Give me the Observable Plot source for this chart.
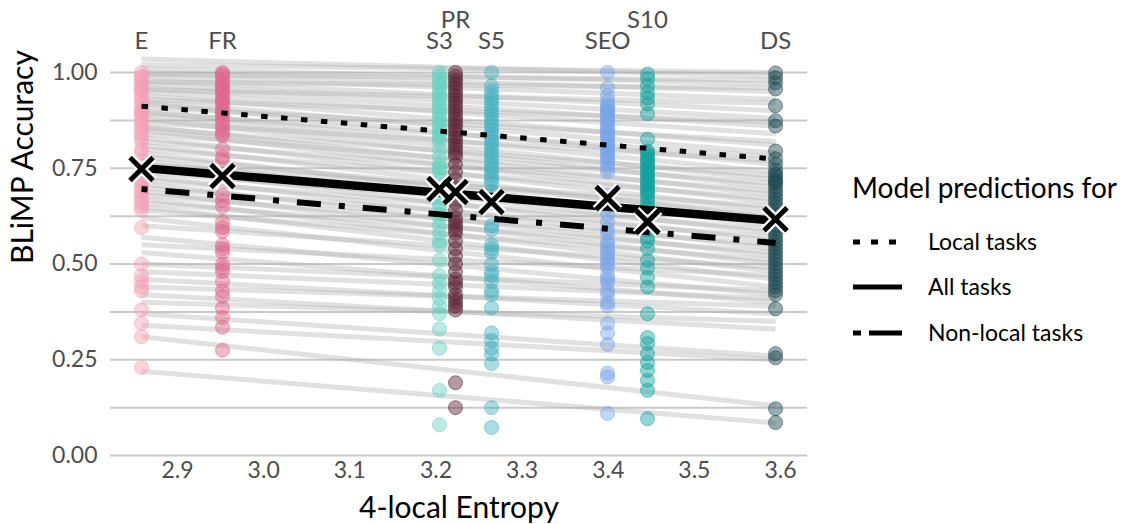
<!DOCTYPE html>
<html>
<head>
<meta charset="utf-8">
<script src="https://cdn.jsdelivr.net/npm/d3@7"></script>
<script src="https://cdn.jsdelivr.net/npm/@observablehq/plot@0.6"></script>
<style>
  html, body { margin: 0; padding: 0; background: white; }
  #wrap { position: relative; width: 1135px; height: 524px; overflow: hidden; }
  #legend { position: absolute; left: 0; top: 0; pointer-events: none; }
</style>
</head>
<body>
<div id="wrap"></div>
<script>
// ---------- data ----------
const languages = ["E", "FR", "S3", "PR", "S5", "SEO", "S10", "DS"];
const entropy   = [2.8582, 2.9522, 3.2041, 3.2227, 3.2645, 3.3992, 3.4456, 3.5942];
const labelRow  = [0, 0, 0, 1, 0, 0, 1, 0];
const langColors = ["#f4a0b4", "#e0668a", "#62d2c0", "#5b1f33", "#45b0c0", "#78a3e8", "#0fa19c", "#1a4a50"];

const accE   = [1.00,0.99,0.985,0.975,0.97,0.96,0.955,0.95,0.94,0.93,0.92,0.91,0.90,0.895,0.89,0.88,0.87,0.86,0.85,0.84,0.83,0.82,0.80,0.79,0.77,0.745,0.73,0.72,0.71,0.70,0.69,0.68,0.67,0.66,0.65,0.64,0.595,0.50,0.47,0.455,0.44,0.43,0.38,0.345,0.31,0.23];
const accFR  = [1.0,0.995,0.99,0.98,0.97,0.965,0.96,0.955,0.95,0.94,0.93,0.925,0.92,0.91,0.90,0.895,0.89,0.88,0.87,0.86,0.85,0.84,0.835,0.80,0.78,0.77,0.735,0.68,0.665,0.65,0.61,0.595,0.585,0.55,0.54,0.53,0.50,0.49,0.48,0.455,0.43,0.415,0.385,0.36,0.335,0.275];
const accS3  = [1.0,0.99,0.98,0.97,0.96,0.95,0.94,0.93,0.92,0.91,0.90,0.89,0.88,0.87,0.86,0.85,0.84,0.83,0.82,0.80,0.78,0.76,0.75,0.74,0.72,0.70,0.68,0.66,0.65,0.63,0.62,0.60,0.58,0.56,0.55,0.51,0.47,0.45,0.43,0.41,0.39,0.37,0.33,0.28,0.17,0.08];
const accPR  = [1.0,0.99,0.98,0.97,0.96,0.95,0.94,0.93,0.92,0.91,0.90,0.89,0.88,0.87,0.86,0.85,0.84,0.83,0.82,0.81,0.80,0.79,0.78,0.76,0.74,0.72,0.70,0.68,0.66,0.64,0.62,0.61,0.60,0.59,0.58,0.56,0.54,0.52,0.50,0.48,0.46,0.45,0.44,0.42,0.41,0.40,0.39,0.38,0.19,0.125];
const accS5  = [1.0,0.965,0.95,0.94,0.93,0.92,0.91,0.90,0.89,0.88,0.87,0.86,0.85,0.84,0.83,0.82,0.81,0.80,0.79,0.78,0.77,0.76,0.75,0.74,0.73,0.72,0.71,0.69,0.68,0.60,0.59,0.55,0.54,0.53,0.50,0.48,0.47,0.455,0.43,0.42,0.385,0.32,0.30,0.28,0.265,0.24,0.125,0.073];
const accSEO = [1.0,0.96,0.94,0.925,0.915,0.91,0.90,0.90,0.895,0.89,0.88,0.875,0.87,0.86,0.855,0.85,0.84,0.835,0.83,0.82,0.815,0.81,0.80,0.795,0.79,0.78,0.775,0.77,0.76,0.75,0.74,0.68,0.65,0.63,0.61,0.59,0.58,0.56,0.55,0.54,0.53,0.52,0.51,0.50,0.49,0.47,0.46,0.45,0.43,0.42,0.40,0.39,0.345,0.32,0.29,0.215,0.205,0.11];
const accS10 = [0.996,0.983,0.965,0.947,0.933,0.918,0.892,0.826,0.795,0.79,0.785,0.775,0.77,0.765,0.755,0.75,0.745,0.735,0.73,0.725,0.715,0.71,0.705,0.695,0.69,0.685,0.675,0.665,0.655,0.645,0.59,0.57,0.56,0.54,0.51,0.49,0.465,0.44,0.37,0.308,0.292,0.266,0.243,0.222,0.196,0.17,0.096];
const accDS  = [0.999,0.986,0.973,0.957,0.913,0.874,0.86,0.795,0.775,0.76,0.745,0.735,0.73,0.72,0.715,0.71,0.70,0.69,0.68,0.67,0.66,0.65,0.64,0.63,0.62,0.60,0.59,0.58,0.57,0.56,0.55,0.54,0.53,0.52,0.51,0.50,0.49,0.48,0.47,0.46,0.45,0.44,0.43,0.42,0.383,0.266,0.255,0.122,0.086];

// mean accuracy per language (X markers)
const meanAcc = [0.748, 0.730, 0.696, 0.688, 0.662, 0.672, 0.610, 0.617];

// per-task fitted lines: value at E entropy and at DS entropy
const taskStart = [1.035,1.02,1.01,1.00,0.995,0.99,0.98,0.975,0.97,0.96,0.955,0.95,0.94,0.93,0.925,0.92,0.91,0.90,0.895,0.89,0.88,0.87,0.86,0.855,0.85,0.84,0.83,0.82,0.81,0.80,0.79,0.78,0.77,0.76,0.75,0.74,0.73,0.72,0.71,0.70,0.69,0.68,0.67,0.66,0.65,0.64,0.62,0.60,0.57,0.55,0.53,0.50,0.48,0.46,0.44,0.42,0.40,0.37,0.34,0.31,0.22];
const taskEnd   = [0.99,1.00,0.97,0.95,0.98,0.93,0.90,0.96,0.88,0.86,0.92,0.84,0.81,0.87,0.79,0.76,0.82,0.74,0.78,0.72,0.70,0.77,0.68,0.73,0.66,0.71,0.64,0.69,0.62,0.67,0.60,0.63,0.58,0.65,0.56,0.61,0.54,0.59,0.52,0.57,0.50,0.55,0.48,0.53,0.46,0.51,0.44,0.49,0.42,0.47,0.40,0.43,0.41,0.37,0.39,0.33,0.35,0.26,0.25,0.13,0.085];

// model predictions
const fitNames = ["Local tasks", "All tasks", "Non-local tasks"];
const fitStart = [0.912, 0.751, 0.696];
const fitEnd   = [0.774, 0.613, 0.555];

const yGrid  = [0, 0.125, 0.25, 0.375, 0.5, 0.625, 0.75, 0.875, 1];
const yTicks = [0, 0.25, 0.5, 0.75, 1];
const xTicks = [2.9, 3.0, 3.1, 3.2, 3.3, 3.4, 3.5, 3.6];

// ---------- tables ----------
const accByLang = [accE, accFR, accS3, accPR, accS5, accSEO, accS10, accDS];
const points = languages.flatMap((lang, i) => accByLang[i].map(v => ({lang, entropy: entropy[i], acc: v})));
const means = languages.map((lang, i) => ({lang, entropy: entropy[i], acc: meanAcc[i]}));
const labels = languages.map((lang, i) => ({lang, entropy: entropy[i], row: labelRow[i]}));
const xFirst = entropy[0], xLast = entropy[entropy.length - 1];
const tasks = taskStart.map((s, i) => ({start: s, end: taskEnd[i]}));
const fits = fitNames.map((name, i) => ({name, start: fitStart[i], end: fitEnd[i]}));

const fitStyle = {
  "Local tasks":     {strokeWidth: 5,   strokeDasharray: "6.5,13.5"},
  "All tasks":       {strokeWidth: 8.5, strokeDasharray: null},
  "Non-local tasks": {strokeWidth: 6,   strokeDasharray: "6,18,24,18"}
};

const fitMarks = fits.map(f => Plot.link([f], {
  x1: () => xFirst, x2: () => xLast, y1: "start", y2: "end",
  stroke: "black", strokeWidth: fitStyle[f.name].strokeWidth,
  strokeDasharray: fitStyle[f.name].strokeDasharray ?? undefined,
  strokeLinecap: "butt"
}));

const chart = Plot.plot({
  width: 1135,
  height: 524,
  marginLeft: 110,
  marginRight: 328,
  marginTop: 72,
  marginBottom: 69,
  x: {domain: [2.8222, 3.6313]},
  y: {domain: [0, 1]},
  color: {domain: languages, range: langColors},
  style: {fontFamily: "Lato, 'Noto Sans', sans-serif", color: "#4d4d4d", background: "white", overflow: "visible"},
  marks: [
    Plot.gridY(yGrid, {stroke: "#c9c9c9", strokeOpacity: 1, strokeWidth: 2}),
    Plot.axisY(yTicks, {tickSize: 0, tickPadding: 13, tickFormat: d3.format(".2f"), fontSize: 23, label: null}),
    Plot.axisX(xTicks, {tickSize: 0, tickPadding: 6, tickFormat: d3.format(".1f"), fontSize: 23, label: null}),
    Plot.link(tasks, {x1: () => xFirst, x2: () => xLast, y1: "start", y2: "end",
      stroke: "#b0b0b0", strokeOpacity: 0.38, strokeWidth: 5}),
    Plot.dot(points, {x: "entropy", y: "acc", fill: "lang", stroke: "lang", r: 7,
      fillOpacity: 0.45, strokeOpacity: 0.55, strokeWidth: 1}),
    ...fitMarks,
    Plot.dot(means, {x: "entropy", y: "acc", symbol: "times", r: 10.5, stroke: "white", strokeWidth: 9.5}),
    Plot.dot(means, {x: "entropy", y: "acc", symbol: "times", r: 10.5, stroke: "black", strokeWidth: 5}),
    Plot.text(labels.filter(d => d.row === 0), {x: "entropy", text: "lang", frameAnchor: "top", dy: -41, fontSize: 24, fill: "#4d4d4d"}),
    Plot.text(labels.filter(d => d.row === 1), {x: "entropy", text: "lang", frameAnchor: "top", dy: -62, fontSize: 24, fill: "#4d4d4d"}),
    Plot.text(["BLiMP Accuracy"], {frameAnchor: "left", rotate: -90, dx: -87, fontSize: 30, fill: "black"}),
    Plot.text(["4-local Entropy"], {frameAnchor: "bottom", dy: 62, fontSize: 30, fill: "black"})
  ]
});

const wrap = document.getElementById("wrap");
wrap.appendChild(chart);

// ---------- legend ----------
const legendKeys = {
  "Local tasks":     {w: 5, dash: "7,11"},
  "All tasks":       {w: 5, dash: null},
  "Non-local tasks": {w: 5, dash: "8,8,33,0"}
};
const lg = d3.select(wrap).append("svg")
  .attr("id", "legend").attr("width", 1135).attr("height", 524)
  .style("font-family", "Lato, 'Noto Sans', sans-serif");
lg.append("text").attr("x", 852).attr("y", 198).attr("font-size", 28).attr("fill", "black")
  .text("Model predictions for");
const rowY = [242, 287, 333];
fitNames.forEach((name, i) => {
  const k = legendKeys[name];
  lg.append("line").attr("x1", 853).attr("x2", 902).attr("y1", rowY[i]).attr("y2", rowY[i])
    .attr("stroke", "black").attr("stroke-width", k.w)
    .attr("stroke-dasharray", k.dash);
  lg.append("text").attr("x", 928).attr("y", rowY[i]).attr("dy", "0.35em")
    .attr("font-size", 23).attr("fill", "black").text(name);
});
</script>
</body>
</html>
